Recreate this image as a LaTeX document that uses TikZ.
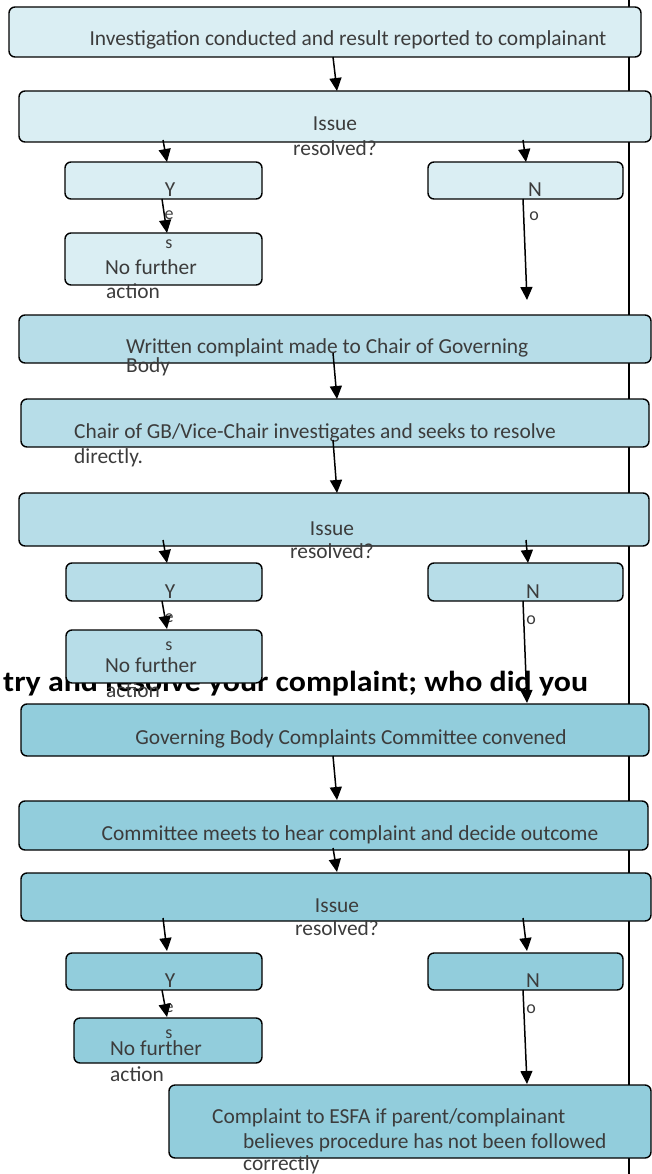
\documentclass[tikz,border=0pt]{standalone}
\usepackage{fontspec}
\setmainfont{Carlito}
\usetikzlibrary{arrows.meta}

\definecolor{paleblue}{RGB}{218,238,243}
\definecolor{midblue}{RGB}{183,221,232}
\definecolor{deepblue}{RGB}{146,205,220}
\definecolor{inkgray}{RGB}{60,60,60}

\begin{document}
\begin{tikzpicture}[x=1pt,y=-1pt,
  box/.style={draw=black,line width=1.4pt,rounded corners=6pt,inner sep=0pt,outer sep=0pt},
  lbl/.style={text=inkgray,inner sep=0pt,font=\fontsize{21.4}{24}\selectfont},
  tiny/.style={text=inkgray,inner sep=0pt,font=\fontsize{18}{20}\selectfont},
  flow/.style={line width=1.5pt,-{Triangle[width=12pt,length=13pt]}}]
\useasboundingbox (0,0) rectangle (652,1174);

%right margin line
\coordinate (railtop) at (629,0);
\coordinate (railbot) at (629,1174);
\draw[line width=1.5pt] (railtop) -- (railbot);

%stray heading line, sits under the boxes
\node[inner sep=0pt,anchor=base west,font=\fontsize{29}{32}\selectfont\bfseries] (strayT) at (3,691) {\scalebox{1.1}[1]{try and resolve your complaint; who did you}};

%Stage one: school investigation
\node[box,fill=paleblue,minimum width=632,minimum height=50] (inv) at (325,32) {};
\node[box,fill=paleblue,minimum width=632,minimum height=51] (res1) at (335,116.5) {};
\node[box,fill=paleblue,minimum width=197,minimum height=37] (yes1) at (163.5,180.5) {};
\node[box,fill=paleblue,minimum width=195,minimum height=37] (no1) at (525.5,180.5) {};
\node[box,fill=paleblue,minimum width=197,minimum height=52] (nfa1) at (163.5,259) {};

%Stage two: Chair of Governing Body
\node[box,fill=midblue,minimum width=632,minimum height=48] (writ) at (335,339) {};
\node[box,fill=midblue,minimum width=628,minimum height=48] (chair) at (335,423) {};
\node[box,fill=midblue,minimum width=630,minimum height=53] (res2) at (334,519.5) {};
\node[box,fill=midblue,minimum width=196,minimum height=38] (yes2) at (164,582) {};
\node[box,fill=midblue,minimum width=195,minimum height=38] (no2) at (525.5,582) {};
\node[box,fill=midblue,minimum width=196,minimum height=53] (nfa2) at (164,656.5) {};

%Stage three: complaints committee
\node[box,fill=deepblue,minimum width=628,minimum height=52] (gbcc) at (335,730) {};
\node[box,fill=deepblue,minimum width=629,minimum height=49] (meet) at (333.5,825.5) {};
\node[box,fill=deepblue,minimum width=630,minimum height=48] (res3) at (336,897) {};
\node[box,fill=deepblue,minimum width=196,minimum height=37] (yes3) at (164,971.5) {};
\node[box,fill=deepblue,minimum width=195,minimum height=37] (no3) at (525.5,971.5) {};
\node[box,fill=deepblue,minimum width=188,minimum height=45] (nfa3) at (168,1040.5) {};
\node[box,fill=deepblue,minimum width=482,minimum height=73] (esfa) at (410,1121.5) {};

%Texts of stage one
\node[lbl,anchor=base] (invT) at (348,46) {Investigation conducted and result reported to complainant};
\node[lbl,anchor=base] (iss1) at (335,131) {Issue};
\node[lbl,anchor=base] (rsv1) at (335,156) {resolved?};
\node[lbl,anchor=base] (y1T) at (170,197) {Y};
\node[lbl,anchor=base] (n1T) at (535,197) {N};
\node[tiny,anchor=base] (e1T) at (169,220) {e};
\node[tiny,anchor=base] (s1T) at (169,248) {s};
\node[tiny,anchor=base] (o1T) at (534,221) {o};
\node[lbl,anchor=base] (nf1T) at (151,274) {No further};
\node[lbl,anchor=base west] (ac1T) at (106,298) {action};

%Texts of stage two
\node[lbl,anchor=base west] (writT) at (126,353) {Written complaint made to Chair of Governing};
\node[lbl,anchor=base west] (bodyT) at (126,372) {Body};
\node[lbl,anchor=base west] (chairT) at (74,438) {Chair of GB/Vice-Chair investigates and seeks to resolve};
\node[lbl,anchor=base west] (dirT) at (74,463) {directly.};
\node[lbl,anchor=base] (iss2) at (332,535) {Issue};
\node[lbl,anchor=base] (rsv2) at (332,558) {resolved?};
\node[lbl,anchor=base] (y2T) at (170,598) {Y};
\node[lbl,anchor=base] (n2T) at (533,598) {N};
\node[tiny,anchor=base] (e2T) at (169,622) {e};
\node[tiny,anchor=base] (s2T) at (169,650) {s};
\node[tiny,anchor=base] (o2T) at (531,624) {o};
\node[lbl,anchor=base] (nf2T) at (151,672) {No further};
\node[lbl,anchor=base west] (ac2T) at (106,697) {action};

%Texts of stage three
\node[lbl,anchor=base] (gbccT) at (351,744) {Governing Body Complaints Committee convened};
\node[lbl,anchor=base] (meetT) at (350,840) {Committee meets to hear complaint and decide outcome};
\node[lbl,anchor=base] (iss3) at (337,912) {Issue};
\node[lbl,anchor=base] (rsv3) at (337,935) {resolved?};
\node[lbl,anchor=base] (y3T) at (170,987) {Y};
\node[lbl,anchor=base] (n3T) at (533,987) {N};
\node[tiny,anchor=base] (e3T) at (169,1012) {e};
\node[tiny,anchor=base] (s3T) at (169,1038) {s};
\node[tiny,anchor=base] (o3T) at (531,1013) {o};
\node[lbl,anchor=base] (nf3T) at (156,1055) {No further};
\node[lbl,anchor=base west] (ac3T) at (110,1081) {action};
\node[lbl,anchor=base west] (esfa1T) at (212,1123) {Complaint to ESFA if parent/complainant};
\node[lbl,anchor=base west] (esfa2T) at (243,1148) {believes procedure has not been followed};
\node[lbl,anchor=base west] (corrT) at (243,1170) {correctly};

%Arrows
\draw[flow] ([xshift=8pt]inv.south) -- ([xshift=2pt]res1.north);
\draw[flow] ([xshift=-172pt,yshift=2pt]res1.south) -- ([xshift=3.5pt]yes1.north);
\draw[flow] ([xshift=188pt,yshift=2pt]res1.south) -- ([xshift=0.5pt]no1.north);
\draw[flow] ([xshift=-1.5pt]yes1.south) -- ([xshift=3.5pt]nfa1.north);
\draw[flow] ([xshift=-2.5pt]no1.south) -- ([xshift=192pt,yshift=15pt]writ.north);
\draw[flow] ([xshift=-2pt,yshift=10pt]writ.south) -- ([xshift=2pt]chair.north);
\draw[flow] ([xshift=-2pt,yshift=7pt]chair.south) -- ([xshift=3pt]res2.north);
\draw[flow] ([xshift=-171pt,yshift=6pt]res2.south) -- ([xshift=3pt]yes2.north);
\draw[flow] ([xshift=192pt,yshift=6pt]res2.south) -- ([xshift=2.5pt]no2.north);
\draw[flow] ([xshift=-2pt]yes2.south) -- ([xshift=3pt,yshift=1pt]nfa2.north);
\draw[flow] ([xshift=-2.5pt]no2.south) -- ([xshift=192pt,yshift=1pt]gbcc.north);
\draw[flow] ([xshift=-2pt]gbcc.south) -- ([xshift=3.5pt,yshift=1pt]meet.north);
\draw[flow] ([xshift=-0.5pt,yshift=2pt]meet.south) -- ([xshift=1pt,yshift=1pt]res3.north);
\draw[flow] ([xshift=-173pt,yshift=3pt]res3.south) -- ([xshift=3pt,yshift=2pt]yes3.north);
\draw[flow] ([xshift=187pt,yshift=3pt]res3.south) -- ([xshift=1.5pt,yshift=2pt]no3.north);
\draw[flow] ([xshift=-2pt]yes3.south) -- ([xshift=-1pt,yshift=1pt]nfa3.north);
\draw[flow] ([xshift=-2.5pt]no3.south) -- ([xshift=117pt,yshift=1pt]esfa.north);

\end{tikzpicture}
\end{document}
